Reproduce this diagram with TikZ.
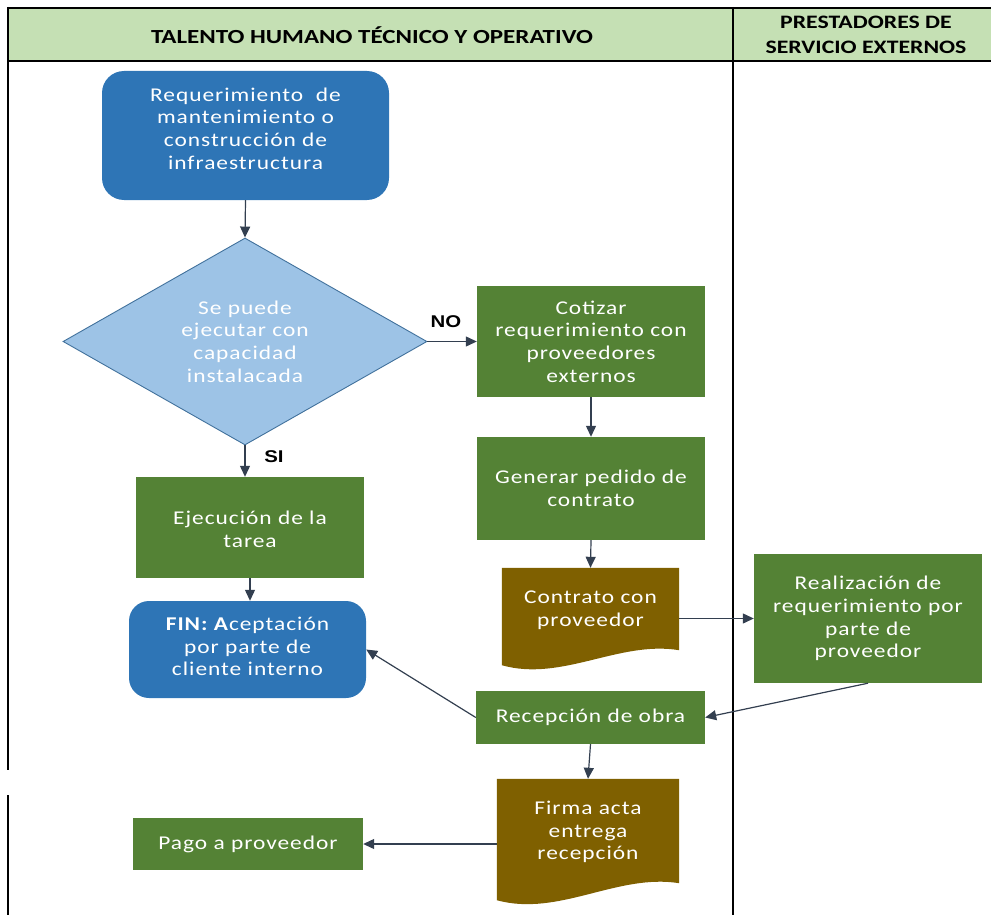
\documentclass[tikz,border=0pt]{standalone}
\usepackage{fontspec}
\setmainfont{Carlito}[FakeStretch=1.2]
\newfontfamily\boxfont{Carlito}[FakeStretch=1.2,LetterSpace=5]
\newfontfamily\headfont{Carlito}[FakeStretch=1.25]
\newfontfamily\tagfont{Liberation Sans}[FakeStretch=1.2]
\usetikzlibrary{shapes.geometric,arrows.meta,calc,backgrounds}

\definecolor{hdrgreen}{HTML}{C5E0B4}
\definecolor{procgreen}{HTML}{548235}
\definecolor{termblue}{HTML}{2E75B6}
\definecolor{decblue}{HTML}{9DC3E6}
\definecolor{decedge}{HTML}{41719C}
\definecolor{docbrown}{HTML}{7F6000}
\definecolor{arrowcol}{HTML}{333F50}

\tikzset{
  boxtext/.style={text=white, align=center, inner sep=0pt,
    font=\boxfont\fontsize{19.5}{22.6}\selectfont},
  proc/.style={boxtext, rectangle, fill=procgreen},
  term/.style={boxtext, rectangle, rounded corners=22pt, fill=termblue},
  decision/.style={boxtext, diamond, fill=decblue, draw=decedge, line width=0.9pt},
  docshape/.style={boxtext, rectangle},
  docfill/.style={fill=docbrown},
  flow/.style={draw=arrowcol, line width=1.2pt,
    -{Triangle[length=11pt,width=10pt]}},
  lane/.style={draw=black, line width=2pt},
  tag/.style={font=\tagfont\bfseries\fontsize{17}{19}\selectfont, inner sep=0pt},
  headtext/.style={font=\headfont\bfseries\fontsize{20}{25}\selectfont, align=center, inner sep=0pt}
}

\begin{document}
\begin{tikzpicture}[x=1pt, y=-1pt]
\useasboundingbox (0,0) rectangle (991,915);

% swimlane header and lane borders
\fill[hdrgreen] (8,8) rectangle (991,61);
\draw[lane] (8,8) -- (991,8);
\draw[lane] (8,61) -- (991,61);
\draw[lane] (8,7) -- (8,770);
\draw[lane] (8,795) -- (8,915);
\draw[lane] (733,7) -- (733,915);
\node[headtext] (lane1) at (372,35) {TALENTO HUMANO TÉCNICO Y OPERATIVO};
\node[headtext, font=\headfont\bfseries\fontsize{19}{25}\selectfont] (lane2) at (866,35)
  {PRESTADORES DE\\SERVICIO EXTERNOS};

% flow nodes
\node[term, minimum width=287pt, minimum height=129pt] (req) at (245.5,135.5) {};
\node[boxtext] (reqtext) at ($(req.center)+(0,-7)$)
  {Requerimiento \ de\\mantenimiento o\\construcción de\\infraestructura};
\node[decision, minimum width=364pt, minimum height=207pt, aspect=1.76] (dec) at (245,341.5)
  {Se puede\\ejecutar con\\capacidad\\instalacada};
\node[proc, minimum width=228pt, minimum height=111pt] (cot) at (591,341.5)
  {Cotizar\\requerimiento con\\proveedores\\externos};
\node[proc, minimum width=228pt, minimum height=103pt] (gen) at (591,488.5)
  {Generar pedido de\\contrato};
\node[docshape, minimum width=177pt, minimum height=84pt] (con) at (590.5,610)
  {Contrato con\\proveedor};
\node[proc, minimum width=228pt, minimum height=129pt] (real) at (868,618.5)
  {Realización de\\requerimiento por\\parte de\\proveedor};
\node[proc, minimum width=229pt, minimum height=53pt] (rec) at (590.5,717.5)
  {Recepción de obra};
\node[docshape, minimum width=182pt, minimum height=106pt] (firma) at (588,832)
  {Firma acta\\entrega\\recepción};
\node[proc, minimum width=228pt, minimum height=101pt] (eje) at (250,527.5) {};
\node[boxtext] (ejetext) at ($(eje.center)+(0,2)$) {Ejecución de la\\tarea};
\node[term, rounded corners=20pt, minimum width=237pt, minimum height=97pt] (fin) at (247.5,649.5) {};
\node[boxtext] (fintext) at ($(fin.center)+(0,-3)$)
  {\textbf{FIN: A}ceptación\\por parte de\\cliente interno};
\node[proc, minimum width=230pt, minimum height=52pt] (pago) at (248,844)
  {Pago a proveedor};

% document shapes with wavy lower edge
\begin{scope}[on background layer]
\fill[docfill] (con.north west) -- (con.north east) -- ($(con.south east)+(0,-2)$)
  .. controls ($(con.south east)+(-60,-12)$) and ($(con.south west)+(60,30)$)
  .. ($(con.south west)+(0,13)$) -- cycle;
\fill[docfill] (firma.north west) -- (firma.north east) -- ($(firma.south east)+(0,-2)$)
  .. controls ($(firma.south east)+(-62,-12)$) and ($(firma.south west)+(62,32)$)
  .. ($(firma.south west)+(0,15)$) -- cycle;
\end{scope}

% connectors
\draw[flow] (req.south) -- (dec.north);
\draw[flow] (dec.east) -- (cot.west);
\draw[flow] (dec.south) -- (dec.south |- eje.north);
\draw[flow] (cot.south) -- (gen.north);
\draw[flow] (gen.south) -- (con.north);
\draw[flow] (con.east |- real.west) -- (real.west);
\draw[flow] (real.south) -- (rec.east);
\draw[flow] (rec.west) -- (fin.east);
\draw[flow] (eje.south) -- (eje.south |- fin.north);
\draw[flow] (rec.south) -- (firma.north);
\draw[flow] (pago.east -| firma.west) -- (pago.east);

% branch labels
\node[tag] (no) at (446,322) {NO};
\node[tag] (si) at (274,457) {SI};
\end{tikzpicture}
\end{document}
